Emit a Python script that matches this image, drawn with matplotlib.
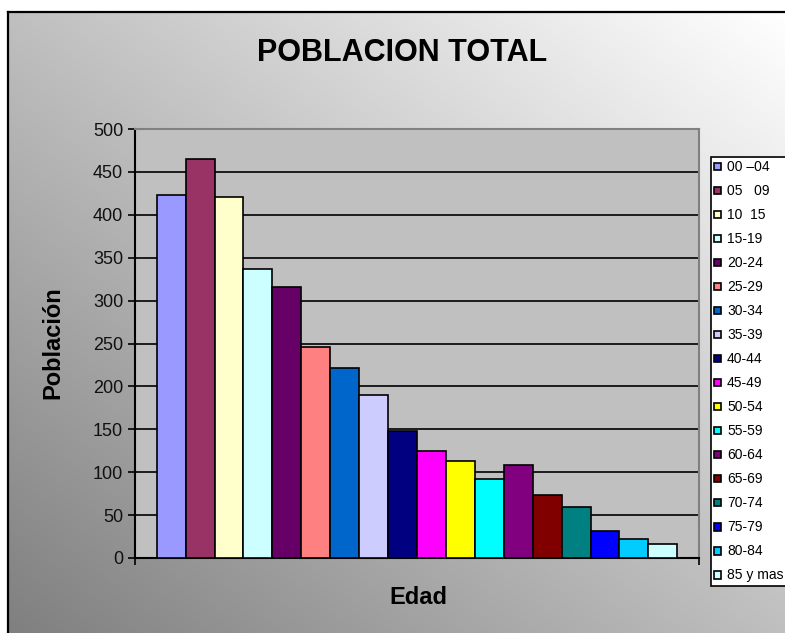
import numpy as np
import matplotlib
matplotlib.use("Agg")
import matplotlib.pyplot as plt
from matplotlib.lines import Line2D

plt.rcParams['font.family'] = ['Liberation Sans', 'DejaVu Sans']

# datos
grupos = ["00 \u201304", "05   09", "10  15", "15-19", "20-24", "25-29", "30-34",
          "35-39", "40-44", "45-49", "50-54", "55-59", "60-64", "65-69",
          "70-74", "75-79", "80-84", "85 y mas"]
poblacion = [423, 465, 421, 337, 316, 246, 221, 190, 148, 125, 113, 92,
             108, 74, 60, 31, 22, 16]
colores = ["#9999FF", "#993366", "#FFFFCC", "#CCFFFF", "#660066", "#FF8080",
           "#0066CC", "#CCCCFF", "#000080", "#FF00FF", "#FFFF00", "#00FFFF",
           "#800080", "#800000", "#008080", "#0000FF", "#00CCFF", "#CCFFFF"]
ticks_y = [0, 50, 100, 150, 200, 250, 300, 350, 400, 450, 500]

W, H = 785, 633
fig = plt.figure(figsize=(W / 100, H / 100), dpi=100, facecolor="white")

# fondo degradado del area del grafico
x0, ytop = 8 / W, 1 - 12 / H
fondo = fig.add_axes([x0, 0, 1 - x0, ytop], zorder=-10)
u = np.linspace(0, 1, 300)
v = np.linspace(0, 1, 300)
uu, vv = np.meshgrid(u, v)
t = (uu + vv) / 2
gris = 0.5 + 0.5 * t
fondo.imshow(np.dstack([gris, gris, gris]), origin="lower", aspect="auto",
             extent=[0, 1, 0, 1])
fondo.set_axis_off()

# marco negro
fig.add_artist(Line2D([x0, x0], [0, ytop], color="black", lw=1.6,
                      transform=fig.transFigure))
fig.add_artist(Line2D([x0, 1], [ytop, ytop], color="black", lw=1.6,
                      transform=fig.transFigure))

ax = fig.add_axes([135 / W, 1 - 558 / H, (699 - 135) / W, (558 - 129) / H])
ax.set_facecolor("#C0C0C0")

pos = np.arange(len(poblacion))
barras = []
for i, (val, col, lab) in enumerate(zip(poblacion, colores, grupos)):
    b = ax.bar(pos[i], val, width=1.0, color=col, edgecolor="black",
               linewidth=1.2, label=lab, zorder=3)
    barras.append(b)

ax.set_xlim(-1.25, len(poblacion) + 0.25)
ax.set_ylim(0, 500)
ax.set_yticks(ticks_y)
ax.set_yticklabels([str(v) for v in ticks_y], fontsize=13, color="#111111")
ax.set_xticks([-1.25, len(poblacion) + 0.25])
ax.set_xticklabels(["", ""])
ax.tick_params(axis="both", direction="out", length=5, width=1.2, color="black")
ax.yaxis.grid(True, color="black", linewidth=1.2, zorder=1)
ax.set_axisbelow(True)
for lado in ["top", "right"]:
    ax.spines[lado].set_color("#808080")
    ax.spines[lado].set_linewidth(1.5)
for lado in ["left", "bottom"]:
    ax.spines[lado].set_color("black")
    ax.spines[lado].set_linewidth(1.5)

fig.text(402 / W, 1 - 53 / H, "POBLACION TOTAL", fontsize=22, fontweight="bold",
         ha="center", va="center")
fig.text(53 / W, 1 - 343 / H, "Poblaci\u00f3n", fontsize=17, fontweight="bold",
         rotation=90, ha="center", va="center")
fig.text(418 / W, 1 - 598 / H, "Edad", fontsize=17, fontweight="bold",
         ha="center", va="center")

leg = fig.legend(handles=barras, labels=grupos, loc="upper left",
                 bbox_to_anchor=(711 / W, 1 - 157 / H), fontsize=10,
                 frameon=True, fancybox=False, edgecolor="black",
                 facecolor="white", framealpha=1, handlelength=0.5,
                 handleheight=0.5, handletextpad=0.4, labelspacing=0.72,
                 borderpad=0.25, borderaxespad=0)
leg.get_frame().set_linewidth(1.2)

fig.savefig("out.png", dpi=100, facecolor=fig.get_facecolor())
